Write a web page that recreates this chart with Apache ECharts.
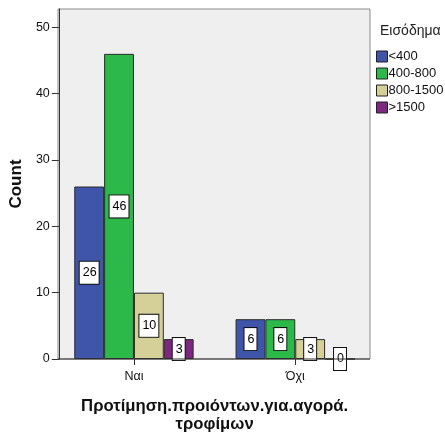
<!DOCTYPE html>
<html><head><meta charset="utf-8">
<script src="https://cdn.jsdelivr.net/npm/echarts@6/dist/echarts.min.js"></script>
<style>html,body{margin:0;padding:0;background:#fff}#c{width:445px;height:438px}</style>
</head><body><div id="c"></div>
<script>
const categories = ['Ναι', 'Όχι'];
const seriesNames = ['<400', '400-800', '800-1500', '>1500'];
const v_lt400 = [26, 6];
const v_400_800 = [46, 6];
const v_800_1500 = [10, 3];
const v_gt1500 = [3, 0];
const yTicks = [0, 10, 20, 30, 40, 50];
const colors = ['#3e55a9', '#2db84a', '#d5cf98', '#7c2780'];
const FONT = 'Arial, "Liberation Sans", sans-serif';

const values = [v_lt400, v_400_800, v_800_1500, v_gt1500];
const chart = echarts.init(document.getElementById('c'), null, {renderer: 'canvas'});
chart.setOption({
  animation: false,
  textStyle: {fontFamily: FONT},
  title: {text: 'Εισόδημα', left: 375, top: 19, textStyle: {fontSize: 14, fontWeight: 'normal', color: '#222', fontFamily: FONT}},
  legend: {
    orient: 'vertical', left: 371, top: 45, itemWidth: 11, itemHeight: 11, itemGap: 4,
    icon: 'rect', data: seriesNames,
    itemStyle: {borderColor: '#222', borderWidth: 1},
    textStyle: {fontSize: 13, color: '#111', padding: [0, 0, 0, -4], fontFamily: FONT}
  },
  graphic: [
    {type: 'rect', z: -100, silent: true, shape: {x: 58, y: 9, width: 312, height: 350},
     style: {fill: '#efefef', stroke: '#8a8a8a', lineWidth: 1}},
    {type: 'line', z: 100, silent: true, shape: {x1: 58, y1: 359, x2: 370, y2: 359},
     style: {stroke: '#333', lineWidth: 1}}
  ],
  grid: {left: 52.5, top: 9, width: 323.4, height: 350, containLabel: false},
  xAxis: {
    type: 'category', data: categories,
    axisLine: {show: false},
    axisTick: {show: true, alignWithLabel: true, length: 6, lineStyle: {color: '#333'}},
    axisLabel: {fontSize: 12.5, color: '#111', margin: 11, fontFamily: FONT},
    name: 'Προτίμηση.προιόντων.για.αγορά.\nτροφίμων', nameLocation: 'middle', nameGap: 38,
    nameTextStyle: {fontSize: 16.7, fontWeight: 'bold', color: '#111', lineHeight: 18, fontFamily: FONT}
  },
  yAxis: {
    type: 'value', min: 0, max: 52.76, interval: 10, offset: -5.5,
    axisLine: {show: true, lineStyle: {color: '#333'}},
    axisTick: {show: true, length: 7, lineStyle: {color: '#333'}, customValues: yTicks},
    axisLabel: {fontSize: 12.5, color: '#111', margin: 9, customValues: yTicks, fontFamily: FONT},
    splitLine: {show: false},
    name: 'Count', nameLocation: 'middle', nameGap: 29,
    nameTextStyle: {fontSize: 17, fontWeight: 'bold', color: '#111', fontFamily: FONT}
  },
  series: seriesNames.map((n, i) => ({
    name: n, type: 'bar', data: values[i], barGap: '0%', barCategoryGap: '26%',
    itemStyle: {color: colors[i], borderColor: '#2a2a2a', borderWidth: 1},
    label: {show: true, position: 'inside', fontSize: 12.5, color: '#000', backgroundColor: '#fff',
      borderColor: '#111', borderWidth: 1, padding: [5, 2, 4, 3], fontFamily: FONT}
  }))
});
</script></body></html>
